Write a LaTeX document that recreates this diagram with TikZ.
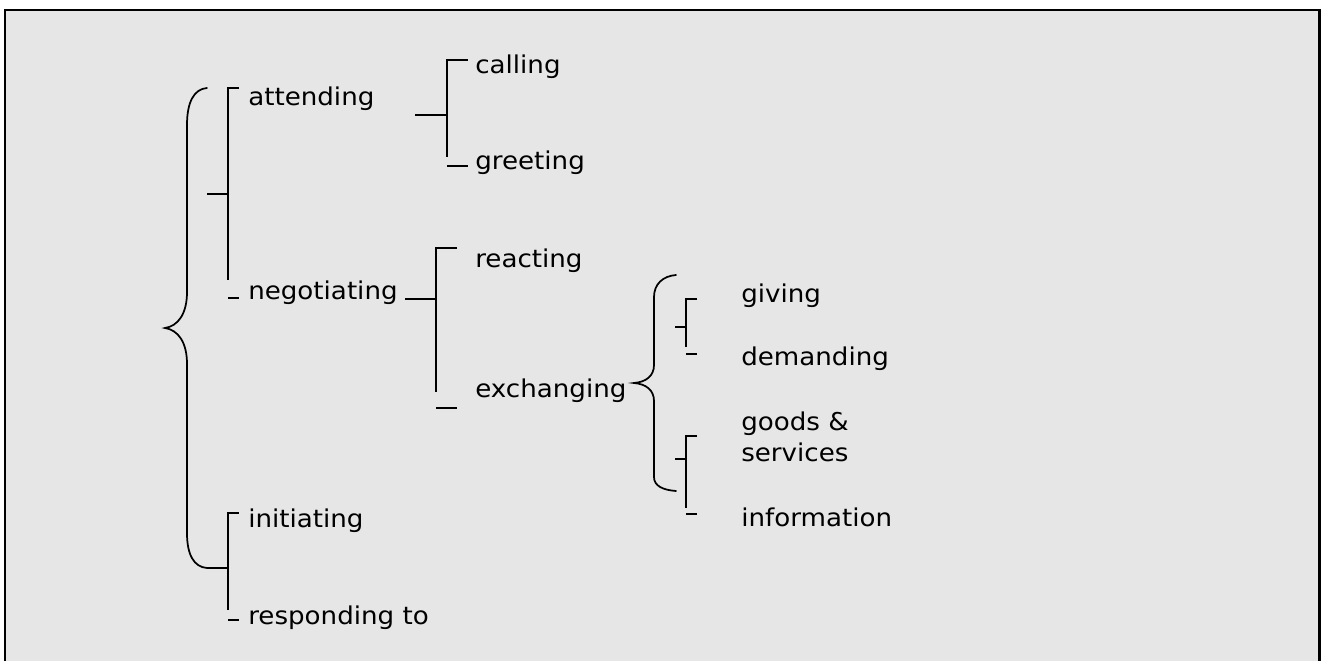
\documentclass[tikz,border=0pt]{standalone}
\usepackage{fontspec}
\setmainfont{DejaVu Sans}[FakeStretch=1.065]
\definecolor{panel}{RGB}{230,230,230}
% one bracket of a system network:
% #1 x of the spine, #2 top tick y, #3 end of spine, #4 lower tick y,
% #5 entry stub y, #6 entry stub start x, #7 tick end x
\newcommand\sysbracket[7]{%
  \draw[brk] (#7,#2) -- (#1,#2) -- (#1,#3);
  \draw[brk] (#1,#4) -- (#7,#4);
  \draw[brk] (#6,#5) -- (#1,#5);
}
\begin{document}
\begin{tikzpicture}[x=0.75pt,y=-0.75pt,
  lbl/.style={anchor=base west, inner sep=0pt, align=left,
    font=\fontsize{18.4}{23.25}\selectfont},
  brk/.style={line width=1.5pt},
  brc/.style={line width=1.3pt, line cap=round},
]
\useasboundingbox (0,0) rectangle (1321,661);
\fill[white] (0,0) rectangle (1321,661);
\fill[panel] (5,10) rectangle (1319.5,661);
\draw[line width=1.6pt] (5,661) -- (5,10) -- (1319.5,10) -- (1319.5,661);

% labels
\node[lbl] (attending)  at (248,105) {attending};
\node[lbl] (negotiating) at (248,299) {negotiating};
\node[lbl] (initiating) at (248,527) {initiating};
\node[lbl] (responding) at (248,624) {responding to};
\node[lbl] (calling)    at (475,73)  {calling};
\node[lbl] (greeting)   at (475,169) {greeting};
\node[lbl] (reacting)   at (475,267) {reacting};
\node[lbl] (exchanging) at (475,397) {exchanging};
\node[lbl] (giving)     at (741,302) {giving};
\node[lbl] (demanding)  at (741,365) {demanding};
\node[lbl] (goods)      at (741,461) {goods \&\\services};
\node[lbl] (information) at (741,526) {information};

% left brace joining the two simultaneous systems
\draw[brc] (207,88) .. controls (194,89) and (187,102) .. (187,125)
  -- (187,292) .. controls (187,314) and (178,326) .. (165,328)
  .. controls (178,330) and (187,342) .. (187,364)
  -- (187,533) .. controls (187,555) and (194,567) .. (207,568);

% brace after exchanging
\draw[brc] (676,275) .. controls (663,276) and (654,284) .. (654,297)
  -- (654,365) .. controls (654,376) and (646,382) .. (634,383)
  .. controls (646,384) and (654,390) .. (654,401)
  -- (654,477) .. controls (654,486) and (663,490) .. (676,491);

% brackets
\sysbracket{228}{88}{280}{298}{194}{207}{239}
\sysbracket{228}{513}{610}{620}{568}{207}{239}
\sysbracket{447}{60}{157}{166}{115}{415}{468}
\sysbracket{436}{248}{392}{408}{299}{405}{457}
\sysbracket{686}{299}{347}{354}{327}{675}{697}
\sysbracket{686}{436}{508}{514}{459}{675}{697}
\end{tikzpicture}
\end{document}
